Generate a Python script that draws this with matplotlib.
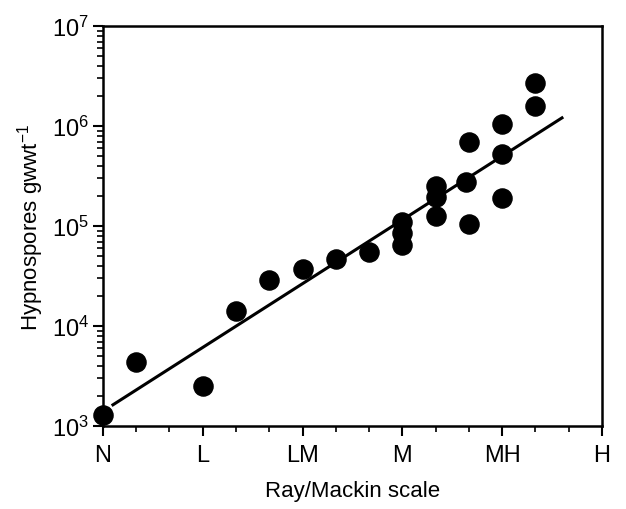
import numpy as np
import matplotlib
matplotlib.use('Agg')
import matplotlib.pyplot as plt
from matplotlib.ticker import LogLocator, NullFormatter, MultipleLocator

plt.rcParams['font.family'] = ['Liberation Sans', 'DejaVu Sans']
plt.rcParams['mathtext.fontset'] = 'custom'
plt.rcParams['mathtext.rm'] = 'Liberation Sans'

# Ray/Mackin scale position (N=0 ... H=5) and hypnospore counts
scale = [0, 1/3, 1.0, 4/3, 5/3, 2.0, 7/3, 8/3, 3.0, 3.0, 3.0,
         10/3, 10/3, 10/3, 3.64, 11/3, 11/3, 4.0, 4.0, 4.0, 13/3, 13/3]
spores = [1.28e3, 4.4e3, 2.5e3, 1.43e4, 2.86e4, 3.75e4, 4.7e4, 5.5e4, 1.1e5, 8.6e4, 6.4e4,
          2.5e5, 1.97e5, 1.26e5, 2.75e5, 7.0e5, 1.05e5, 1.06e6, 5.3e5, 1.92e5, 2.7e6, 1.6e6]

# regression line end points
fit_x = [0.1, 4.6]
fit_y = [1.63e3, 1.21e6]

cat_labels = ['N', 'L', 'LM', 'M', 'MH', 'H']

fig = plt.figure(figsize=(6.26, 5.10), dpi=100)
ax = fig.add_axes([0.1645, 0.1627, 0.797, 0.784])

ax.plot(fit_x, fit_y, color='black', lw=2.2, zorder=2)
ax.scatter(scale, spores, s=190, color='black', zorder=3, clip_on=False)

ax.set_yscale('log')
ax.set_ylim(1e3, 1e7)
ax.set_xlim(0, 5)

ax.set_xticks(range(6))
ax.set_xticklabels(cat_labels)
ax.xaxis.set_minor_locator(MultipleLocator(1/3))
ax.yaxis.set_major_locator(LogLocator(base=10, numticks=10))
ax.yaxis.set_minor_locator(LogLocator(base=10, subs=np.arange(2, 10), numticks=10))
ax.yaxis.set_minor_formatter(NullFormatter())

ax.tick_params(axis='both', which='major', direction='out', length=7, width=1.5,
               labelsize=17, pad=3)
ax.tick_params(axis='both', which='minor', direction='out', length=4, width=1.2)
ax.tick_params(axis='x', which='major', pad=6)

for sp in ax.spines.values():
    sp.set_linewidth(1.8)

ax.set_xlabel('Ray/Mackin scale', fontsize=16, labelpad=10)
ax.set_ylabel('Hypnospores gwwt$^{-1}$', fontsize=16, labelpad=4)

fig.savefig('out.png', dpi=100)
